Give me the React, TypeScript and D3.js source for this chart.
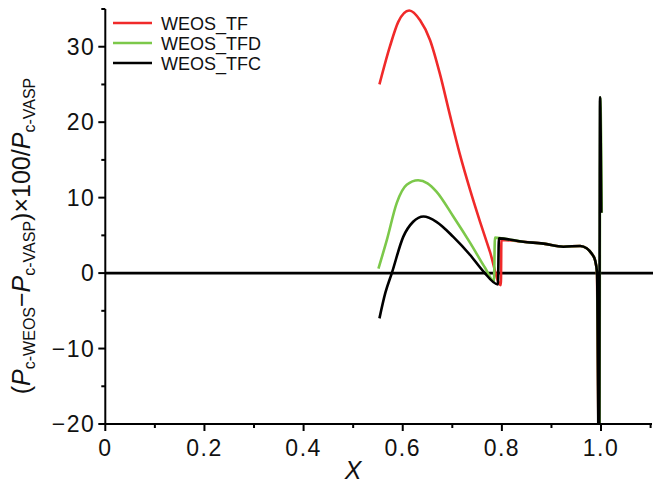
import { useEffect } from 'react';
import * as d3 from 'd3';

// values
const redX = [0.553, 0.574, 0.591, 0.613, 0.635, 0.655, 0.675, 0.695, 0.715, 0.736, 0.756, 0.776, 0.798, 0.799, 0.843, 0.884, 0.924, 0.958, 0.971, 0.981, 0.988, 0.992, 0.996];
const redY = [25.0, 30.0, 33.3, 34.8, 33.5, 30.9, 26.4, 21.0, 15.8, 11.0, 6.8, 2.8, -1.6, 4.4, 4.15, 3.9, 3.5, 3.6, 3.3, 2.6, 1.7, 0, -30];

const greenX = [0.551, 0.568, 0.588, 0.608, 0.631, 0.65, 0.668, 0.702, 0.736, 0.766, 0.784, 0.786, 0.8, 0.843, 0.884, 0.924, 0.958, 0.971, 0.981, 0.988, 0.992, 0.9965, 0.9985, 1.0015];
const greenY = [0.6, 4.4, 9.3, 11.7, 12.3, 11.9, 10.8, 7.5, 4.0, 0.7, -1.1, 4.7, 4.6, 4.15, 3.9, 3.5, 3.6, 3.3, 2.6, 1.7, 0, -30, 23.3, 8];

const blackX = [0.553, 0.565, 0.578, 0.601, 0.621, 0.642, 0.668, 0.702, 0.736, 0.763, 0.792, 0.794, 0.843, 0.884, 0.924, 0.958, 0.971, 0.981, 0.988, 0.992, 0.996, 0.998, 1.0005];
const blackY = [-6.0, -2.6, 0, 4.8, 6.8, 7.5, 6.8, 4.8, 2.4, 0.2, -1.5, 4.6, 4.15, 3.9, 3.5, 3.6, 3.3, 2.6, 1.7, 0, -30, 23.3, 8];

const seriesNames = ['WEOS_TF', 'WEOS_TFD', 'WEOS_TFC'];
const seriesColors = ['#f02a2a', '#7cc84a', '#000000'];

const xMajor = [0, 0.2, 0.4, 0.6, 0.8, 1.0];
const xMinor = [0.1, 0.3, 0.5, 0.7, 0.9, 1.1];
const yMajor = [-20, -10, 0, 10, 20, 30];
const yMinor = [-15, -5, 5, 15, 25, 35];

const W = 653, H = 489;

export default function App() {
  useEffect(() => {
    document.body.style.margin = '0';
  }, []);

  const x = d3.scaleLinear().domain([0, 1.1]).range([105.3, 650.6]);
  const y = d3.scaleLinear().domain([-20, 35]).range([424, 9]);

  const line = d3.line<[number, number]>()
    .x(d => x(d[0]))
    .y(d => y(d[1]))
    .curve(d3.curveMonotoneX);

  const series = [
    d3.zip(redX, redY),
    d3.zip(greenX, greenY),
    d3.zip(blackX, blackY),
  ] as [number, number][][];

  const font = '"Liberation Sans", Arial, sans-serif';
  const x0 = x(0), yb = y(-20);

  return (
    <svg width={W} height={H} style={{ display: 'block', background: '#fff' }} fontFamily={font}>
      <defs>
        <clipPath id="plot">
          <rect x={x0} y={y(35)} width={W - x0} height={yb - y(35)} />
        </clipPath>
      </defs>

      {/* zero line */}
      <line x1={x0} x2={W} y1={y(0)} y2={y(0)} stroke="#000" strokeWidth={2.6} />

      <g clipPath="url(#plot)" fill="none" strokeWidth={2.6} strokeLinejoin="round">
        {series.map((s, i) => (
          <path key={i} d={line(s) || ''} stroke={seriesColors[i]} />
        ))}
      </g>

      {/* axes */}
      <g stroke="#000" strokeWidth={2}>
        <line x1={x0} x2={x0} y1={y(35)} y2={yb + 1} />
        <line x1={x0 - 1} x2={652} y1={yb} y2={yb} />
        {yMajor.map(v => <line key={'ym' + v} x1={x0 - 7} x2={x0} y1={y(v)} y2={y(v)} />)}
        {yMinor.map(v => <line key={'yn' + v} x1={x0 - 4} x2={x0} y1={y(v)} y2={y(v)} />)}
        {xMajor.map(v => <line key={'xm' + v} x1={x(v)} x2={x(v)} y1={yb} y2={yb + 7} />)}
        {xMinor.map(v => <line key={'xn' + v} x1={x(v)} x2={x(v)} y1={yb} y2={yb + 4} />)}
      </g>

      <g fontSize={23} fill="#111" letterSpacing={1.5}>
        {yMajor.map(v => (
          <text key={'yl' + v} x={x0 - 10} y={y(v)} dy="0.36em" textAnchor="end">
            {v < 0 ? '\u2212' + Math.abs(v) : String(v)}
          </text>
        ))}
        {xMajor.map(v => (
          <text key={'xl' + v} x={x(v)} y={yb + 32} textAnchor="middle">
            {v === 0 ? '0' : v.toFixed(1)}
          </text>
        ))}
      </g>

      <text x={x(0.5)} y={479} fontSize={25} fontStyle="italic" textAnchor="middle" fill="#111">X</text>

      <text transform={`translate(30,${236}) rotate(-90)`} textAnchor="middle" fontSize={25} fill="#111">
        <tspan>(</tspan>
        <tspan fontStyle="italic">P</tspan>
        <tspan fontSize={16} dy={5}>c-WEOS</tspan>
        <tspan dy={-5}>{'\u2212'}</tspan>
        <tspan fontStyle="italic">P</tspan>
        <tspan fontSize={16} dy={5}>c-VASP</tspan>
        <tspan dy={-5}>){'\u00d7'}100/</tspan>
        <tspan fontStyle="italic">P</tspan>
        <tspan fontSize={16} dy={5}>c-VASP</tspan>
      </text>

      <g>
        {seriesNames.map((n, i) => (
          <g key={n} transform={`translate(0,${23 + i * 20})`}>
            <line x1={113} x2={152} y1={0} y2={0} stroke={seriesColors[i]} strokeWidth={2.6} />
            <text x={161} y={6.5} fontSize={18} fill="#111">{n}</text>
          </g>
        ))}
      </g>
    </svg>
  );
}
